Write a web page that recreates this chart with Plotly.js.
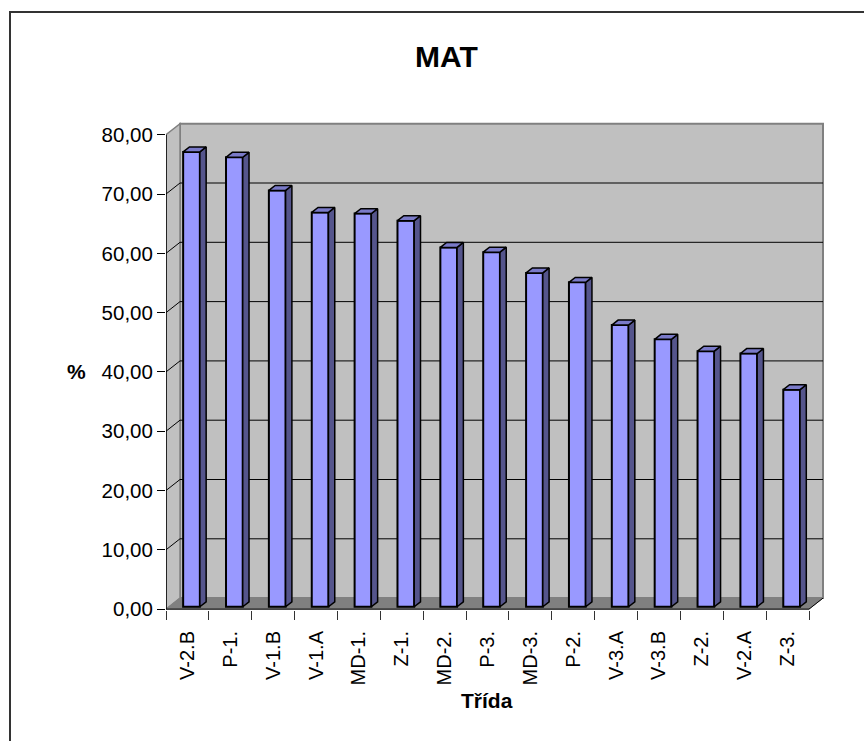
<!DOCTYPE html>
<html>
<head>
<meta charset="utf-8">
<script src="https://cdn.plot.ly/plotly-3.0.1.min.js"></script>
<style>
  html, body { margin: 0; padding: 0; background: #fff; overflow: hidden; }
  #wrap { position: relative; width: 864px; height: 741px; }
  #chart { width: 864px; height: 741px; }
  #frame { position: absolute; left: 9px; top: 11px; width: 900px; height: 800px;
           border-left: 2px solid #333; border-top: 2px solid #333; pointer-events: none; }
</style>
</head>
<body>
<div id="wrap">
<div id="chart"></div>
<div id="frame"></div>
</div>
<script>
// ---- data ----
const classes = ["V-2.B", "P-1.", "V-1.B", "V-1.A", "MD-1.", "Z-1.", "MD-2.", "P-3.", "MD-3.", "P-2.", "V-3.A", "V-3.B", "Z-2.", "V-2.A", "Z-3."];
const percent = [76.7, 75.8, 70.2, 66.5, 66.3, 65.1, 60.6, 59.8, 56.3, 54.7, 47.5, 45.1, 43.1, 42.7, 36.6];
const yTicks = [0, 10, 20, 30, 40, 50, 60, 70, 80];
const chartTitle = "MAT";
const xTitle = "Třída";
const yTitle = "%";

// ---- geometry (pixels of the 864x741 page) ----
const W = 864, H = 741;
const frontLeftPx = 166, frontRightPx = 809;   // x = -0.5 .. n-0.5 on the front plane
const zeroPx = 609, topPx = 135;               // y = 0 .. 80 on the front plane
const n = classes.length;
const pxPerCat = (frontRightPx - frontLeftPx) / n;
const pxPerUnit = (zeroPx - topPx) / 80;
const DX = 14 / pxPerCat;      // depth offset of back wall, in category units
const DY = 11 / pxPerUnit;     // depth offset of back wall, in value units

const plotRightPx = 827;
const xr = [-0.5, -0.5 + (plotRightPx - frontLeftPx) / pxPerCat];
const yr = [-0.15, 84];
const mL = frontLeftPx, mR = W - plotRightPx;
const mB = H - (zeroPx + 0.15 * pxPerUnit);
const mT = zeroPx - 84 * pxPerUnit;
const pw = W - mL - mR, ph = H - mT - mB;
const px2paperX = p => (p - mL) / pw;
const px2paperY = p => (H - mB - p) / ph;

// bar geometry
const barShift = 0.095, barW = 0.39, barBase = 0.4;
const ddx = 0.45 * DX, ddy = 0.45 * DY;

const xs = classes.map((c, i) => i);

// ---- walls / floor / gridlines as shapes ----
const shapes = [];
const x0 = -0.5, x1 = n - 0.5;
// back wall
shapes.push({type: 'rect', xref: 'x', yref: 'y', x0: x0 + DX, x1: x1 + DX, y0: DY, y1: 80 + DY,
  fillcolor: '#C0C0C0', line: {color: '#808080', width: 2}, layer: 'below'});
// side wall
shapes.push({type: 'path', xref: 'x', yref: 'y',
  path: `M ${x0} 0 L ${x0} 80 L ${x0 + DX} ${80 + DY} L ${x0 + DX} ${DY} Z`,
  fillcolor: '#C0C0C0', line: {color: '#808080', width: 1.5}, layer: 'below'});
// floor
shapes.push({type: 'path', xref: 'x', yref: 'y',
  path: `M ${x0} 0 L ${x1} 0 L ${x1 + DX} ${DY} L ${x0 + DX} ${DY} Z`,
  fillcolor: '#808080', line: {color: '#808080', width: 1}, layer: 'below'});
// gridlines
yTicks.forEach(v => {
  if (v === 0 || v === 80) return;
  shapes.push({type: 'line', xref: 'x', yref: 'y', x0: x0 + DX, x1: x1 + DX, y0: v + DY, y1: v + DY,
    line: {color: '#000', width: 1}, layer: 'below'});
  shapes.push({type: 'line', xref: 'x', yref: 'y', x0: x0, x1: x0 + DX, y0: v, y1: v + DY,
    line: {color: '#000', width: 1}, layer: 'below'});
});
// floor edges (front axis line and right diagonal)
shapes.push({type: 'line', xref: 'x', yref: 'y', x0: x0, x1: x1, y0: 0, y1: 0,
  line: {color: '#000', width: 1}, layer: 'below'});
shapes.push({type: 'line', xref: 'x', yref: 'y', x0: x1, x1: x1 + DX, y0: 0, y1: DY,
  line: {color: '#000', width: 1}, layer: 'below'});
// front vertical value axis
shapes.push({type: 'line', xref: 'x', yref: 'y', x0: x0, x1: x0, y0: 0, y1: 80,
  line: {color: '#000', width: 1.5}, layer: 'below'});

// ---- 3D faces of bars as polygons in data coordinates ----
const sideX = [], sideY = [], topX = [], topY = [];
percent.forEach((v, i) => {
  const l = i + barShift - barW / 2, r = i + barShift + barW / 2;
  const b = barBase, t = barBase + v;
  sideX.push(r, r, r + ddx, r + ddx, r, null);
  sideY.push(b, t, t + ddy, b + ddy, b, null);
  topX.push(l, r, r + ddx, l + ddx, l, null);
  topY.push(t, t, t + ddy, t + ddy, t, null);
});

const traces = [
  {type: 'scatter', mode: 'lines', x: sideX, y: sideY, fill: 'toself', fillcolor: '#55558C',
   line: {color: '#000', width: 1.5}, hoverinfo: 'skip', showlegend: false},
  {type: 'scatter', mode: 'lines', x: topX, y: topY, fill: 'toself', fillcolor: '#7A7AC8',
   line: {color: '#000', width: 1.5}, hoverinfo: 'skip', showlegend: false},
  {type: 'bar', x: xs.map(i => i + barShift), y: percent, base: barBase, width: barW,
   marker: {color: '#9999FF', line: {color: '#000', width: 2}}, showlegend: false, hoverinfo: 'skip'},
  // invisible trace on overlay axis to carry boundary ticks
  {type: 'scatter', mode: 'markers', x: [x0], y: [0], xaxis: 'x2', yaxis: 'y',
   marker: {opacity: 0}, hoverinfo: 'skip', showlegend: false}
];

const font = {family: 'Liberation Sans, Arial, sans-serif', color: '#000'};

const layout = {
  width: W, height: H,
  margin: {l: mL, r: mR, t: mT, b: mB, pad: 0},
  paper_bgcolor: '#fff', plot_bgcolor: 'rgba(0,0,0,0)',
  separators: ', ',
  showlegend: false,
  hovermode: false,
  font: Object.assign({size: 20}, font),
  xaxis: {
    range: xr, showgrid: false, zeroline: false, showline: false,
    tickmode: 'array', tickvals: xs, ticktext: classes, tickangle: -90,
    ticks: 'outside', ticklen: 12, tickcolor: 'rgba(0,0,0,0)',
    tickfont: Object.assign({size: 20}, font), fixedrange: true
  },
  xaxis2: {
    overlaying: 'x', anchor: 'y', side: 'bottom', range: xr,
    showgrid: false, zeroline: false, showline: false,
    tickmode: 'array', tickvals: Array.from({length: n + 1}, (_, k) => k - 0.5),
    ticks: 'outside', ticklen: 9, tickwidth: 1, tickcolor: '#333', showticklabels: false,
    fixedrange: true
  },
  yaxis: {
    range: yr, showgrid: false, zeroline: false, showline: false,
    tickmode: 'array', tickvals: yTicks, tickformat: '.2f',
    ticks: 'outside', ticklen: 8, tickwidth: 1, tickcolor: '#000',
    tickfont: Object.assign({size: 20.5}, font), fixedrange: true
  },
  shapes: shapes,
  annotations: [
    {text: '<b>' + chartTitle + '</b>', xref: 'paper', yref: 'paper',
     x: px2paperX(446), y: px2paperY(57), xanchor: 'center', yanchor: 'middle',
     showarrow: false, font: Object.assign({size: 30}, font)},
    {text: '<b>' + yTitle + '</b>', xref: 'paper', yref: 'paper',
     x: px2paperX(76), y: px2paperY(372), xanchor: 'center', yanchor: 'middle',
     showarrow: false, font: Object.assign({size: 21}, font)},
    {text: '<b>' + xTitle + '</b>', xref: 'paper', yref: 'paper',
     x: px2paperX(487), y: px2paperY(700), xanchor: 'center', yanchor: 'middle',
     showarrow: false, font: Object.assign({size: 21}, font)}
  ]
};

Plotly.newPlot('chart', traces, layout, {displayModeBar: false, staticPlot: true});
</script>
</body>
</html>
